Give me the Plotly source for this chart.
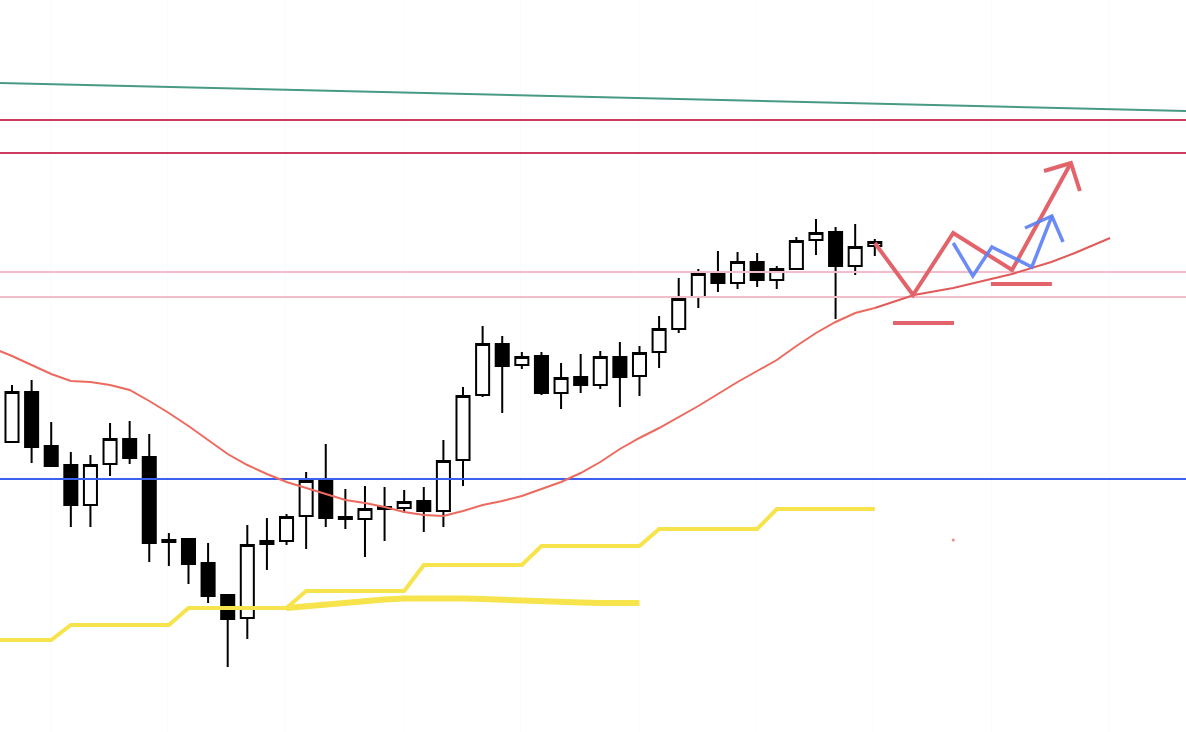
import plotly.graph_objects as go

# ---- candle data (index 0..44) ----
idx = list(range(45))
opens = [290, 340, 286, 267, 227, 268, 293, 275, 192, 193, 169, 137, 114, 191, 191,
         216, 252, 215, 213, 225, 224, 231, 221, 272, 337, 388, 367, 376, 339, 355,
         347, 375, 356, 380, 403, 435, 458, 449, 470, 452, 463, 492, 500, 466, 486]
highs = [347, 352, 310, 280, 277, 309, 311, 298, 199, 194, 189, 138, 207, 214, 218,
         260, 288, 243, 246, 245, 242, 245, 292, 345, 406, 396, 380, 380, 369, 378,
         381, 390, 386, 416, 454, 463, 481, 480, 479, 466, 495, 513, 505, 508, 493]
lows = [290, 269, 266, 205, 205, 256, 268, 170, 166, 148, 129, 65, 93, 162, 187,
        183, 205, 203, 175, 191, 219, 200, 205, 246, 335, 319, 363, 337, 323, 339,
        343, 325, 336, 364, 399, 424, 440, 443, 445, 443, 463, 477, 413, 457, 476]
closes = [340, 285, 266, 227, 267, 293, 274, 189, 190, 168, 136, 113, 187, 188, 215,
          251, 214, 213, 223, 223, 230, 221, 271, 336, 388, 366, 375, 339, 354, 347,
          375, 355, 379, 403, 433, 458, 449, 470, 452, 463, 491, 499, 466, 485, 490]

# ---- moving average (index -1..44) ----
ma_idx = list(range(-1, 45))
ma_vals = [384, 376, 367, 358, 351, 350, 347, 342, 331, 319, 306, 292, 278, 267, 258,
           250, 244, 238, 232, 229, 225, 220, 217, 216, 221, 227, 231, 236, 243, 250,
           259, 270, 283, 294, 304, 315, 326, 338, 350, 361, 372, 386, 399, 410, 419, 424]
ma_proj_x = [44, 46, 48, 51, 53, 54.2, 56]
ma_proj_y = [424, 437, 444, 458, 470, 479, 494]

# ---- yellow step line (index -1..44) ----
step_idx = list(range(-1, 45))
step_vals = [92] * 4 + [107] * 6 + [124] * 6 + [141] * 6 + [167] * 6 + [186] * 6 + [203] * 6 + [223] * 6

# ---- thick yellow line (index 14..32) ----
thick_idx = list(range(14, 33))
thick_vals = [124, 126, 127.5, 129, 131, 132.5, 133.5, 134, 134, 133.5, 133, 132,
              131.5, 130.5, 130, 129.5, 129, 129, 129]

# ---- horizontal levels ----
crimson_levels = [612, 579]
pink_levels = [460, 435]
blue_level = 253
green_trend_x = [-0.61, 59.87]
green_trend_y = [649, 621]

# ---- projection drawings ----
red_path_x = [44, 45.95, 48, 51, 54]
red_path_y = [489, 437, 499, 462, 569]
red_head_x = [52.63, 54, 54.46]
red_head_y = [561, 569, 541]
red_bar1_x = [44.93, 48.04]
red_bar1_y = [409, 409]
red_bar2_x = [49.92, 53.03]
red_bar2_y = [448, 448]
blue_path_x = [48, 49, 49.97, 52.01, 53.03]
blue_path_y = [489, 456, 485, 465, 516]
blue_head_x = [51.66, 53.03, 53.6]
blue_head_y = [504, 516, 490]
dot_x = [48]
dot_y = [192]

X_RANGE = [-0.612, 59.87]
Y_RANGE = [0, 732]

YELLOW = "#f7e44c"
RED = "#e2646a"
BLUE_P = "#5b80f5"

fig = go.Figure()

# horizontal level lines
for lv in crimson_levels:
    fig.add_trace(go.Scatter(x=X_RANGE, y=[lv, lv], mode="lines",
                             line=dict(color="#cc3a5e", width=2), hoverinfo="skip"))
for lv in pink_levels:
    fig.add_trace(go.Scatter(x=X_RANGE, y=[lv, lv], mode="lines",
                             line=dict(color="#f2bccb", width=2), hoverinfo="skip"))
fig.add_trace(go.Scatter(x=X_RANGE, y=[blue_level, blue_level], mode="lines",
                         line=dict(color="#3b5ff0", width=2), hoverinfo="skip"))
fig.add_trace(go.Scatter(x=green_trend_x, y=green_trend_y, mode="lines",
                         line=dict(color="#479a84", width=2), hoverinfo="skip"))

# yellow lines
fig.add_trace(go.Scatter(x=thick_idx, y=thick_vals, mode="lines",
                         line=dict(color=YELLOW, width=6), hoverinfo="skip"))
fig.add_trace(go.Scatter(x=step_idx, y=step_vals, mode="lines",
                         line=dict(color=YELLOW, width=4), hoverinfo="skip"))

# moving average
fig.add_trace(go.Scatter(x=ma_idx, y=ma_vals, mode="lines",
                         line=dict(color="#ec6a5e", width=2), hoverinfo="skip"))
fig.add_trace(go.Scatter(x=ma_proj_x, y=ma_proj_y, mode="lines",
                         line=dict(color="#e05a5a", width=2), hoverinfo="skip"))

# candles
fig.add_trace(go.Candlestick(
    x=idx, open=opens, high=highs, low=lows, close=closes,
    increasing=dict(fillcolor="#ffffff", line=dict(color="#000000", width=2)),
    decreasing=dict(fillcolor="#000000", line=dict(color="#000000", width=2)),
    whiskerwidth=0, hoverinfo="skip"))

# projections
fig.add_trace(go.Scatter(x=red_bar1_x, y=red_bar1_y, mode="lines",
                         line=dict(color=RED, width=4), hoverinfo="skip"))
fig.add_trace(go.Scatter(x=red_bar2_x, y=red_bar2_y, mode="lines",
                         line=dict(color=RED, width=4), hoverinfo="skip"))
fig.add_trace(go.Scatter(x=red_path_x, y=red_path_y, mode="lines",
                         line=dict(color=RED, width=4), hoverinfo="skip"))
fig.add_trace(go.Scatter(x=red_head_x, y=red_head_y, mode="lines",
                         line=dict(color=RED, width=4), hoverinfo="skip"))
fig.add_trace(go.Scatter(x=blue_path_x, y=blue_path_y, mode="lines",
                         line=dict(color=BLUE_P, width=3.5), opacity=0.9, hoverinfo="skip"))
fig.add_trace(go.Scatter(x=blue_head_x, y=blue_head_y, mode="lines",
                         line=dict(color=BLUE_P, width=3.5), opacity=0.9, hoverinfo="skip"))
fig.add_trace(go.Scatter(x=dot_x, y=dot_y, mode="markers",
                         marker=dict(color="#e88890", size=3), hoverinfo="skip"))

fig.update_layout(
    width=1186, height=732,
    margin=dict(l=0, r=0, t=0, b=0),
    paper_bgcolor="white", plot_bgcolor="white",
    showlegend=False,
    boxgap=0.3, boxgroupgap=0.05,
    xaxis=dict(range=X_RANGE, showgrid=True, gridcolor="#fbfbfb", gridwidth=1,
               tick0=1.95, dtick=6, showticklabels=False, zeroline=False,
               rangeslider=dict(visible=False), ticks=""),
    yaxis=dict(range=Y_RANGE, showgrid=False, showticklabels=False, zeroline=False, ticks=""),
)

fig.write_html("out.html", config={"displayModeBar": False},
               post_script="document.body.style.margin='0';")
